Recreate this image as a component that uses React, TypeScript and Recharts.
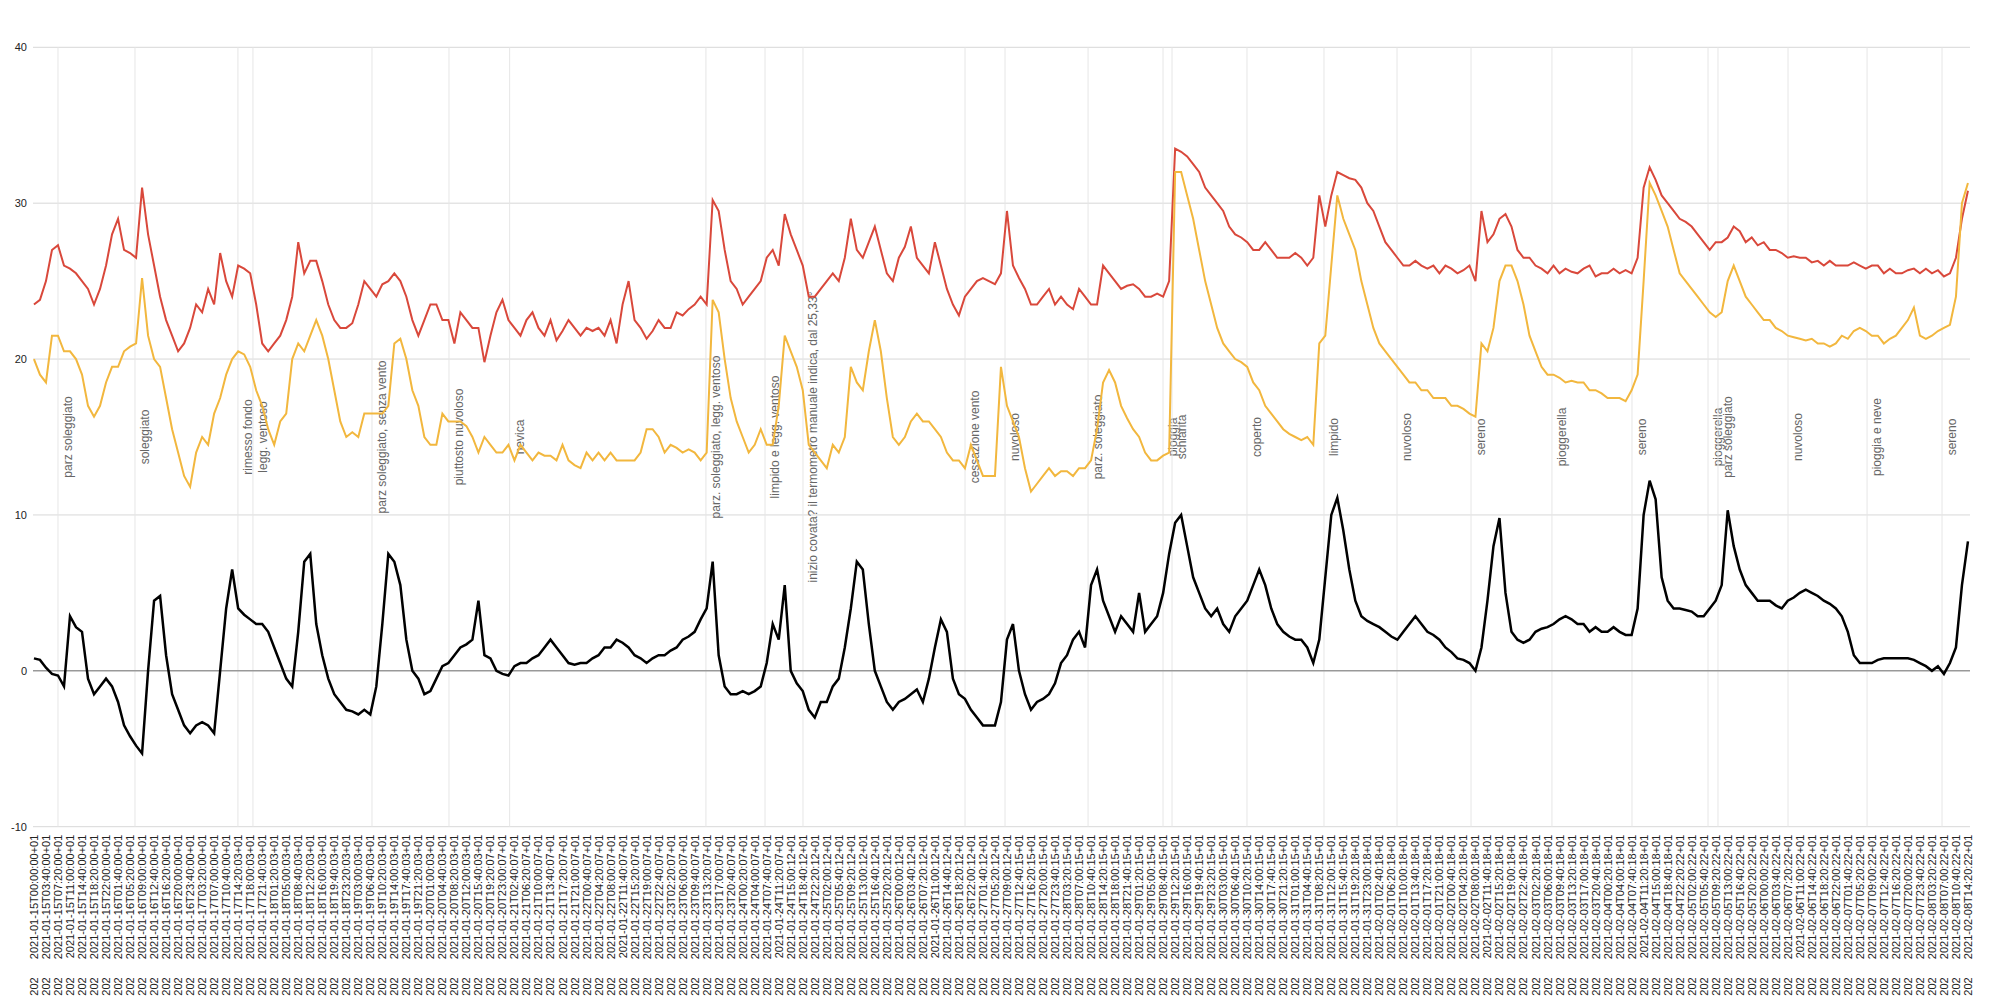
import React from "react";
import { LineChart, Line, XAxis, YAxis, CartesianGrid, ReferenceLine } from "recharts";

// tick labels, one every 220 minutes
const tickLabels = [
  "2021-01-15T00:00:00+01", "2021-01-15T03:40:00+01", "2021-01-15T07:20:00+01", "2021-01-15T11:00:00+01", "2021-01-15T14:40:00+01", "2021-01-15T18:20:00+01", "2021-01-15T22:00:00+01",
  "2021-01-16T01:40:00+01", "2021-01-16T05:20:00+01", "2021-01-16T09:00:00+01", "2021-01-16T12:40:00+01", "2021-01-16T16:20:00+01", "2021-01-16T20:00:00+01", "2021-01-16T23:40:00+01",
  "2021-01-17T03:20:00+01", "2021-01-17T07:00:00+01", "2021-01-17T10:40:00+01", "2021-01-17T14:20:03+01", "2021-01-17T18:00:03+01", "2021-01-17T21:40:03+01",
  "2021-01-18T01:20:03+01", "2021-01-18T05:00:03+01", "2021-01-18T08:40:03+01", "2021-01-18T12:20:03+01", "2021-01-18T16:00:03+01", "2021-01-18T19:40:03+01", "2021-01-18T23:20:03+01",
  "2021-01-19T03:00:03+01", "2021-01-19T06:40:03+01", "2021-01-19T10:20:03+01", "2021-01-19T14:00:03+01", "2021-01-19T17:40:03+01", "2021-01-19T21:20:03+01",
  "2021-01-20T01:00:03+01", "2021-01-20T04:40:03+01", "2021-01-20T08:20:03+01", "2021-01-20T12:00:03+01", "2021-01-20T15:40:03+01", "2021-01-20T19:20:07+01", "2021-01-20T23:00:07+01",
  "2021-01-21T02:40:07+01", "2021-01-21T06:20:07+01", "2021-01-21T10:00:07+01", "2021-01-21T13:40:07+01", "2021-01-21T17:20:07+01", "2021-01-21T21:00:07+01",
  "2021-01-22T00:40:07+01", "2021-01-22T04:20:07+01", "2021-01-22T08:00:07+01", "2021-01-22T11:40:07+01", "2021-01-22T15:20:07+01", "2021-01-22T19:00:07+01", "2021-01-22T22:40:07+01",
  "2021-01-23T02:20:07+01", "2021-01-23T06:00:07+01", "2021-01-23T09:40:07+01", "2021-01-23T13:20:07+01", "2021-01-23T17:00:07+01", "2021-01-23T20:40:07+01",
  "2021-01-24T00:20:07+01", "2021-01-24T04:00:07+01", "2021-01-24T07:40:07+01", "2021-01-24T11:20:07+01", "2021-01-24T15:00:12+01", "2021-01-24T18:40:12+01", "2021-01-24T22:20:12+01",
  "2021-01-25T02:00:12+01", "2021-01-25T05:40:12+01", "2021-01-25T09:20:12+01", "2021-01-25T13:00:12+01", "2021-01-25T16:40:12+01", "2021-01-25T20:20:12+01",
  "2021-01-26T00:00:12+01", "2021-01-26T03:40:12+01", "2021-01-26T07:20:12+01", "2021-01-26T11:00:12+01", "2021-01-26T14:40:12+01", "2021-01-26T18:20:12+01", "2021-01-26T22:00:12+01",
  "2021-01-27T01:40:12+01", "2021-01-27T05:20:12+01", "2021-01-27T09:00:12+01", "2021-01-27T12:40:15+01", "2021-01-27T16:20:15+01", "2021-01-27T20:00:15+01", "2021-01-27T23:40:15+01",
  "2021-01-28T03:20:15+01", "2021-01-28T07:00:15+01", "2021-01-28T10:40:15+01", "2021-01-28T14:20:15+01", "2021-01-28T18:00:15+01", "2021-01-28T21:40:15+01",
  "2021-01-29T01:20:15+01", "2021-01-29T05:00:15+01", "2021-01-29T08:40:15+01", "2021-01-29T12:20:15+01", "2021-01-29T16:00:15+01", "2021-01-29T19:40:15+01", "2021-01-29T23:20:15+01",
  "2021-01-30T03:00:15+01", "2021-01-30T06:40:15+01", "2021-01-30T10:20:15+01", "2021-01-30T14:00:15+01", "2021-01-30T17:40:15+01", "2021-01-30T21:20:15+01",
  "2021-01-31T01:00:15+01", "2021-01-31T04:40:15+01", "2021-01-31T08:20:15+01", "2021-01-31T12:00:15+01", "2021-01-31T15:40:15+01", "2021-01-31T19:20:18+01", "2021-01-31T23:00:18+01",
  "2021-02-01T02:40:18+01", "2021-02-01T06:20:18+01", "2021-02-01T10:00:18+01", "2021-02-01T13:40:18+01", "2021-02-01T17:20:18+01", "2021-02-01T21:00:18+01",
  "2021-02-02T00:40:18+01", "2021-02-02T04:20:18+01", "2021-02-02T08:00:18+01", "2021-02-02T11:40:18+01", "2021-02-02T15:20:18+01", "2021-02-02T19:00:18+01", "2021-02-02T22:40:18+01",
  "2021-02-03T02:20:18+01", "2021-02-03T06:00:18+01", "2021-02-03T09:40:18+01", "2021-02-03T13:20:18+01", "2021-02-03T17:00:18+01", "2021-02-03T20:40:18+01",
  "2021-02-04T00:20:18+01", "2021-02-04T04:00:18+01", "2021-02-04T07:40:18+01", "2021-02-04T11:20:18+01", "2021-02-04T15:00:18+01", "2021-02-04T18:40:18+01", "2021-02-04T22:20:22+01",
  "2021-02-05T02:00:22+01", "2021-02-05T05:40:22+01", "2021-02-05T09:20:22+01", "2021-02-05T13:00:22+01", "2021-02-05T16:40:22+01", "2021-02-05T20:20:22+01",
  "2021-02-06T00:00:22+01", "2021-02-06T03:40:22+01", "2021-02-06T07:20:22+01", "2021-02-06T11:00:22+01", "2021-02-06T14:40:22+01", "2021-02-06T18:20:22+01", "2021-02-06T22:00:22+01",
  "2021-02-07T01:40:22+01", "2021-02-07T05:20:22+01", "2021-02-07T09:00:22+01", "2021-02-07T12:40:22+01", "2021-02-07T16:20:22+01", "2021-02-07T20:00:22+01", "2021-02-07T23:40:22+01",
  "2021-02-08T03:20:22+01", "2021-02-08T07:00:22+01", "2021-02-08T10:40:22+01", "2021-02-08T14:20:22+01",
];

// readings every 110 minutes (two per tick label)
// red line
const interno = [
  23.5, 23.8, 25, 27, 27.3, 26, 25.8, 25.5, 25, 24.5, 23.5, 24.5, 26, 28, 29, 27,
  26.8, 26.5, 31, 28, 26, 24, 22.5, 21.5, 20.5, 21, 22, 23.5, 23, 24.5, 23.5, 26.8, 25, 24, 26,
  25.8, 25.5, 23.5, 21, 20.5, 21, 21.5, 22.5, 24, 27.5, 25.5, 26.3, 26.3, 25, 23.5, 22.5, 22, 22,
  22.3, 23.5, 25, 24.5, 24, 24.8, 25, 25.5, 25, 24, 22.5, 21.5, 22.5, 23.5, 23.5, 22.5, 22.5, 21, 23,
  22.5, 22, 22, 19.8, 21.5, 23, 23.8, 22.5, 22, 21.5, 22.5, 23, 22, 21.5, 22.5, 21.2, 21.8, 22.5,
  22, 21.5, 22, 21.8, 22, 21.5, 22.5, 21, 23.5, 25, 22.5, 22, 21.3, 21.8, 22.5, 22, 22, 23, 22.8,
  23.2, 23.5, 24, 23.5, 30.2, 29.5, 27, 25, 24.5, 23.5, 24, 24.5, 25, 26.5, 27, 26, 29.3, 28,
  27, 26, 24, 24, 24.5, 25, 25.5, 25, 26.5, 29, 27, 26.5, 27.5, 28.5, 27, 25.5, 25, 26.5,
  27.2, 28.5, 26.5, 26, 25.5, 27.5, 26, 24.5, 23.5, 22.8, 24, 24.5, 25, 25.2, 25, 24.8, 25.5, 29.5, 26,
  25.2, 24.5, 23.5, 23.5, 24, 24.5, 23.5, 24, 23.5, 23.2, 24.5, 24, 23.5, 23.5, 26, 25.5, 25, 24.5,
  24.7, 24.8, 24.5, 24, 24, 24.2, 24, 25, 33.5, 33.3, 33, 32.5, 32, 31, 30.5, 30, 29.5, 28.5, 28,
  27.8, 27.5, 27, 27, 27.5, 27, 26.5, 26.5, 26.5, 26.8, 26.5, 26, 26.5, 30.5, 28.5, 30.5, 32, 31.8,
  31.6, 31.5, 31, 30, 29.5, 28.5, 27.5, 27, 26.5, 26, 26, 26.3, 26, 25.8, 26, 25.5, 26, 25.8, 25.5,
  25.7, 26, 25, 29.5, 27.5, 28, 29, 29.3, 28.5, 27, 26.5, 26.5, 26, 25.8, 25.5, 26, 25.5, 25.8,
  25.6, 25.5, 25.8, 26, 25.3, 25.5, 25.5, 25.8, 25.5, 25.7, 25.5, 26.5, 31, 32.3, 31.5, 30.5, 30, 29.5, 29,
  28.8, 28.5, 28, 27.5, 27, 27.5, 27.5, 27.8, 28.5, 28.2, 27.5, 27.8, 27.3, 27.5, 27, 27, 26.8, 26.5,
  26.6, 26.5, 26.5, 26.2, 26.3, 26, 26.3, 26, 26, 26, 26.2, 26, 25.8, 26, 26, 25.5, 25.8, 25.5, 25.5,
  25.7, 25.8, 25.5, 25.8, 25.5, 25.7, 25.3, 25.5, 26.5, 29, 30.8,
];

// yellow line
const esterno = [
  20, 19, 18.5, 21.5, 21.5, 20.5, 20.5, 20, 19, 17, 16.3, 17, 18.5, 19.5, 19.5, 20.5,
  20.8, 21, 25.2, 21.5, 20, 19.5, 17.5, 15.5, 14, 12.5, 11.8, 14, 15, 14.5, 16.5, 17.5, 19, 20, 20.5,
  20.3, 19.5, 18, 17, 15.5, 14.5, 16, 16.5, 20, 21, 20.5, 21.5, 22.5, 21.5, 20, 18, 16, 15,
  15.3, 15, 16.5, 16.5, 16.5, 16.5, 17, 21, 21.3, 20, 18, 17, 15, 14.5, 14.5, 16.5, 16, 16, 16,
  15.7, 15, 14, 15, 14.5, 14, 14, 14.5, 13.5, 14.5, 14, 13.5, 14, 13.8, 13.8, 13.5, 14.5, 13.5,
  13.2, 13, 14, 13.5, 14, 13.5, 14, 13.5, 13.5, 13.5, 13.5, 14, 15.5, 15.5, 15, 14, 14.5, 14.3, 14,
  14.2, 14, 13.5, 14, 23.8, 23, 20, 17.5, 16, 15, 14, 14.5, 15.5, 14.5, 14.5, 17, 21.5, 20.5,
  19.5, 18, 14.5, 14, 13.5, 13, 14.5, 14, 15, 19.5, 18.5, 18, 20.5, 22.5, 20.5, 17.5, 15, 14.5,
  15, 16, 16.5, 16, 16, 15.5, 15, 14, 13.5, 13.5, 13, 14.5, 13.5, 12.5, 12.5, 12.5, 19.5, 17, 16,
  15, 13, 11.5, 12, 12.5, 13, 12.5, 12.8, 12.8, 12.5, 13, 13, 13.5, 15.5, 18.5, 19.3, 18.5, 17,
  16.2, 15.5, 15, 14, 13.5, 13.5, 13.8, 14, 32, 32, 30.5, 29, 27, 25, 23.5, 22, 21, 20.5, 20,
  19.8, 19.5, 18.5, 18, 17, 16.5, 16, 15.5, 15.2, 15, 14.8, 15, 14.5, 21, 21.5, 26, 30.5, 29,
  28, 27, 25, 23.5, 22, 21, 20.5, 20, 19.5, 19, 18.5, 18.5, 18, 18, 17.5, 17.5, 17.5, 17, 17,
  16.8, 16.5, 16.3, 21, 20.5, 22, 25, 26, 26, 25, 23.5, 21.5, 20.5, 19.5, 19, 19, 18.8, 18.5,
  18.6, 18.5, 18.5, 18, 18, 17.8, 17.5, 17.5, 17.5, 17.3, 18, 19, 25, 31.3, 30.5, 29.5, 28.5, 27, 25.5,
  25, 24.5, 24, 23.5, 23, 22.7, 23, 25, 26, 25, 24, 23.5, 23, 22.5, 22.5, 22, 21.8, 21.5,
  21.4, 21.3, 21.2, 21.3, 21, 21, 20.8, 21, 21.5, 21.3, 21.8, 22, 21.8, 21.5, 21.5, 21, 21.3, 21.5, 22,
  22.5, 23.3, 21.5, 21.3, 21.5, 21.8, 22, 22.2, 24, 30, 31.3,
];

// black line
const differenza = [
  0.8, 0.7, 0.2, -0.2, -0.3, -1, 3.5, 2.8, 2.5, -0.5, -1.5, -1, -0.5, -1, -2, -3.5,
  -4.2, -4.8, -5.3, 0, 4.5, 4.8, 1, -1.5, -2.5, -3.5, -4, -3.5, -3.3, -3.5, -4, 0, 4, 6.5, 4,
  3.6, 3.3, 3, 3, 2.5, 1.5, 0.5, -0.5, -1, 2.5, 7, 7.5, 3, 1, -0.5, -1.5, -2, -2.5,
  -2.6, -2.8, -2.5, -2.8, -1, 3, 7.5, 7, 5.5, 2, 0, -0.5, -1.5, -1.3, -0.5, 0.3, 0.5, 1, 1.5,
  1.7, 2, 4.5, 1, 0.8, 0, -0.2, -0.3, 0.3, 0.5, 0.5, 0.8, 1, 1.5, 2, 1.5, 1, 0.5,
  0.4, 0.5, 0.5, 0.8, 1, 1.5, 1.5, 2, 1.8, 1.5, 1, 0.8, 0.5, 0.8, 1, 1, 1.3, 1.5, 2,
  2.2, 2.5, 3.3, 4, 7, 1, -1, -1.5, -1.5, -1.3, -1.5, -1.3, -1, 0.5, 3, 2, 5.5, 0,
  -0.8, -1.3, -2.5, -3, -2, -2, -1, -0.5, 1.5, 4, 7, 6.5, 3, 0, -1, -2, -2.5, -2,
  -1.8, -1.5, -1.2, -2, -0.5, 1.5, 3.3, 2.5, -0.5, -1.5, -1.8, -2.5, -3, -3.5, -3.5, -3.5, -2, 2, 3,
  0, -1.5, -2.5, -2, -1.8, -1.5, -0.8, 0.5, 1, 2, 2.5, 1.5, 5.5, 6.5, 4.5, 3.5, 2.5, 3.5,
  3, 2.5, 5, 2.5, 3, 3.5, 5, 7.5, 9.5, 10, 8, 6, 5, 4, 3.5, 4, 3, 2.5, 3.5,
  4, 4.5, 5.5, 6.5, 5.5, 4, 3, 2.5, 2.2, 2, 2, 1.5, 0.5, 2, 6, 10, 11.1, 9,
  6.5, 4.5, 3.5, 3.2, 3, 2.8, 2.5, 2.2, 2, 2.5, 3, 3.5, 3, 2.5, 2.3, 2, 1.5, 1.2, 0.8,
  0.7, 0.5, 0, 1.5, 4.5, 8, 9.8, 5, 2.5, 2, 1.8, 2, 2.5, 2.7, 2.8, 3, 3.3, 3.5,
  3.3, 3, 3, 2.5, 2.8, 2.5, 2.5, 2.8, 2.5, 2.3, 2.3, 4, 10, 12.2, 11, 6, 4.5, 4, 4,
  3.9, 3.8, 3.5, 3.5, 4, 4.5, 5.5, 10.3, 8, 6.5, 5.5, 5, 4.5, 4.5, 4.5, 4.2, 4, 4.5,
  4.7, 5, 5.2, 5, 4.8, 4.5, 4.3, 4, 3.5, 2.5, 1, 0.5, 0.5, 0.5, 0.7, 0.8, 0.8, 0.8, 0.8,
  0.8, 0.7, 0.5, 0.3, 0, 0.3, -0.2, 0.5, 1.5, 5.5, 8.3,
];

// annotations (position in tick units) and their notes
const notePos = [
  2.0, 8.41, 16.98, 18.23, 28.14, 34.55, 39.6, 55.94, 60.86, 64.02, 77.51, 80.84, 87.75,
  93.99, 94.74, 100.98, 107.39, 113.47, 119.63, 126.37, 133.03, 139.36, 140.19, 146.02, 152.6, 158.84,
];
const noteText = [
  "parz soleggiato", "soleggiato", "rimesso fondo", "legg. ventoso", "parz soleggiato, senza vento",
  "piuttosto nuvoloso", "nevica", "parz. soleggiato, legg. ventoso", "limpido e legg. ventoso",
  "inizio covata? il termometro manuale indica, dal 25,33°", "cessazione vento", "nuvoloso",
  "parz. soleggiato", "pioggia", "schiarita", "coperto", "limpido", "nuvoloso", "sereno",
  "pioggerella", "sereno", "pioggerella", "parz soleggiato", "nuvoloso", "pioggia e neve", "sereno",
];

const legendNames = ["differenza, °C", "interno, °C", "esterno, °C"];
const legendColors = ["#000000", "#d9483b", "#f2b73e"];

const data = interno.map((v, j) => ({
  t: j / 2,
  interno: v,
  esterno: esterno[j],
  differenza: differenza[j],
}));

const FONT = "'Liberation Sans', Arial, Helvetica, sans-serif";

const XTick = (props: any) => {
  const { x, y, payload } = props;
  const label = tickLabels[payload.value];
  return (
    <g>
      <text transform={`translate(${x},${y + 8}) rotate(-90)`} textAnchor="end" dominantBaseline="central"
        fontSize={11} fill="#222" fontFamily={FONT}>{label}</text>
      <text transform={`translate(${x},${y + 169}) rotate(-90)`} textAnchor="start" dominantBaseline="central"
        fontSize={11} fill="#222" fontFamily={FONT}>202</text>
    </g>
  );
};

const YTick = (props: any) => {
  const { x, y, payload } = props;
  return (
    <text x={x} y={y} textAnchor="end" dominantBaseline="central" fontSize={11} fill="#222" fontFamily={FONT}>
      {payload.value}
    </text>
  );
};

const NoteLabel = (props: any) => {
  const vb = props.viewBox || {};
  return (
    <text transform={`translate(${vb.x + 14},429) rotate(-90)`} textAnchor="middle"
      fontSize={12} fill="#666" fontFamily={FONT}>{props.text}</text>
  );
};

export default function App() {
  return (
    <div style={{ position: "relative" }}>
      <div style={{ position: "absolute", top: -15, left: 812, whiteSpace: "nowrap", fontFamily: FONT, fontSize: 11, color: "#666" }}>
        {legendNames.map((n, i) => (
          <span key={n} style={{ marginRight: 10 }}>
            <span style={{ display: "inline-block", width: 30, height: 2, background: legendColors[i], verticalAlign: "middle", marginRight: 5 }} />
            {n}
          </span>
        ))}
      </div>
      <LineChart width={1975} height={990} data={data} margin={{ top: 39.3, right: 13, bottom: 0, left: 0 }}>
        <CartesianGrid vertical={false} stroke="#d8d8d8" />
        <XAxis type="number" dataKey="t" domain={[-0.08, 161.17]} allowDataOverflow
          ticks={tickLabels.map((_, i) => i)} interval={0} height={171.3}
          tickLine={false} axisLine={false} tickSize={0} tickMargin={0} tick={<XTick />} />
        <YAxis domain={[-10, 40]} ticks={[-10, 0, 10, 20, 30, 40]} width={25}
          tickLine={false} axisLine={false} tickSize={6} tickMargin={0} tick={<YTick />} />
        {notePos.map((p, k) => (
          <ReferenceLine key={k} x={p} stroke="#e6e6e6" label={<NoteLabel text={noteText[k]} />} />
        ))}
        <ReferenceLine y={0} stroke="#777" />
        <Line type="linear" dataKey="interno" stroke="#d9483b" strokeWidth={2} dot={false} isAnimationActive={false} />
        <Line type="linear" dataKey="esterno" stroke="#f2b73e" strokeWidth={2} dot={false} isAnimationActive={false} />
        <Line type="linear" dataKey="differenza" stroke="#000" strokeWidth={2.5} dot={false} isAnimationActive={false} />
      </LineChart>
    </div>
  );
}
